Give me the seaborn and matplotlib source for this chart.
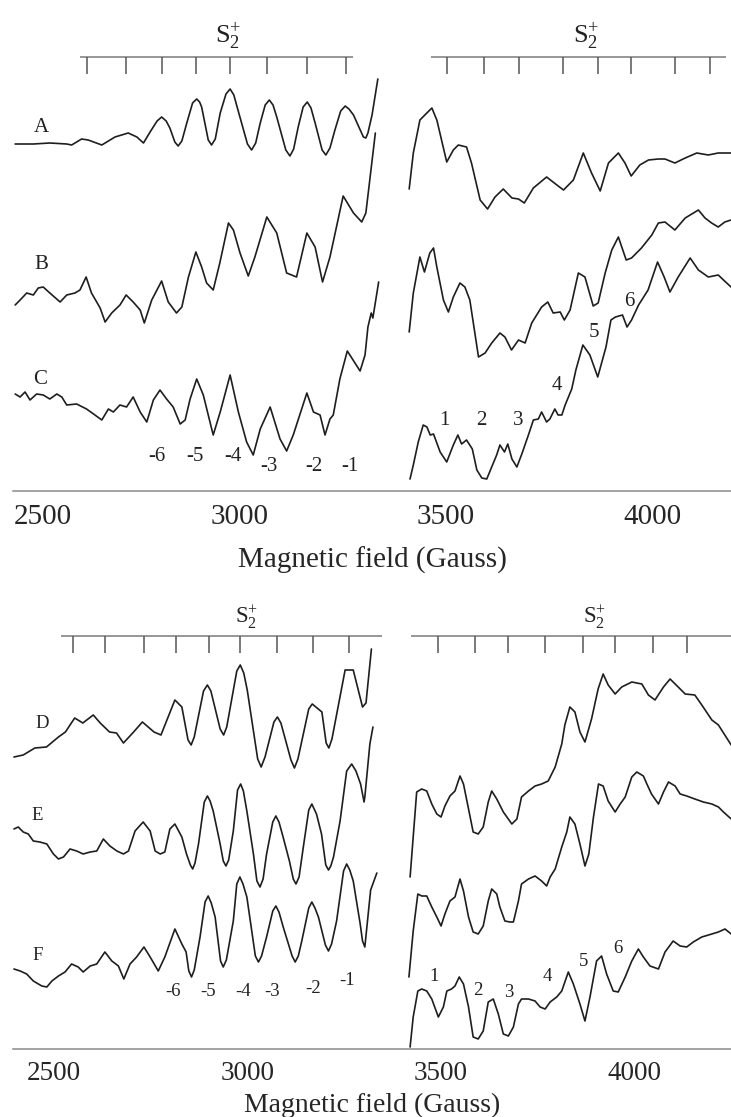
import matplotlib
matplotlib.use("Agg")
import matplotlib.pyplot as plt
import matplotlib.transforms as mtransforms
import numpy as np
import pandas as pd
import seaborn as sns

# ---------------- data (field in Gauss, signal in arbitrary units) ----------------
A_left_field = [2456, 2500, 2540, 2581, 2593, 2617, 2633, 2666, 2698, 2730, 2751, 2767, 2783, 2800, 2811, 2822, 2831, 2843, 2851, 2860, 2872, 2886, 2896, 2903, 2908, 2924, 2932, 2941, 2953, 2967, 2977, 2986, 2994, 3019, 3029, 3039, 3050, 3062, 3072, 3081, 3090, 3112, 3122, 3131, 3142, 3154, 3164, 3173, 3183, 3200, 3209, 3219, 3231, 3245, 3256, 3265, 3276, 3300, 3306, 3311, 3321, 3335]
A_left_signal = [347, 347, 348, 347, 346, 352, 351, 346, 354, 358, 354, 348, 359, 370, 374, 370, 363, 349, 345, 350, 368, 388, 392, 389, 384, 351, 346, 352, 378, 397, 402, 396, 384, 347, 341, 348, 368, 386, 391, 386, 374, 341, 335, 342, 364, 384, 389, 383, 368, 341, 336, 343, 361, 380, 385, 382, 376, 354, 353, 358, 376, 412]
A_right_field = [3411, 3421, 3437, 3449, 3466, 3478, 3502, 3518, 3530, 3550, 3562, 3583, 3601, 3619, 3639, 3660, 3676, 3690, 3712, 3744, 3769, 3785, 3809, 3833, 3853, 3874, 3894, 3918, 3934, 3949, 3970, 3991, 4015, 4031, 4055, 4080, 4108, 4136, 4160, 4191]
A_right_signal = [302, 338, 371, 376, 383, 371, 329, 341, 346, 344, 328, 291, 282, 294, 302, 293, 292, 288, 303, 314, 306, 301, 311, 338, 318, 300, 328, 338, 328, 315, 326, 331, 332, 332, 328, 333, 338, 336, 338, 338]

B_left_field = [2456, 2468, 2484, 2500, 2512, 2524, 2540, 2565, 2581, 2601, 2613, 2628, 2641, 2662, 2674, 2690, 2710, 2725, 2742, 2759, 2769, 2787, 2811, 2827, 2847, 2860, 2876, 2894, 2908, 2920, 2936, 2952, 2973, 2985, 3001, 3021, 3037, 3066, 3090, 3114, 3138, 3163, 3183, 3201, 3219, 3251, 3276, 3296, 3306, 3329]
B_left_signal = [186, 191, 198, 196, 203, 204, 198, 189, 196, 198, 201, 214, 198, 183, 169, 178, 186, 196, 189, 181, 168, 191, 210, 189, 178, 184, 214, 239, 224, 208, 201, 228, 268, 261, 238, 215, 234, 274, 258, 218, 214, 258, 244, 209, 234, 295, 278, 269, 278, 358]
B_right_field = [3411, 3421, 3437, 3448, 3461, 3470, 3478, 3494, 3506, 3518, 3534, 3546, 3558, 3579, 3595, 3611, 3631, 3643, 3659, 3676, 3692, 3708, 3732, 3747, 3760, 3777, 3787, 3801, 3821, 3837, 3857, 3869, 3886, 3902, 3918, 3937, 3950, 3974, 3999, 4015, 4031, 4055, 4080, 4112, 4128, 4144, 4160, 4176, 4191]
B_right_signal = [159, 198, 234, 219, 238, 243, 224, 191, 179, 194, 208, 204, 191, 134, 138, 148, 158, 154, 141, 151, 148, 168, 184, 189, 178, 179, 171, 181, 218, 214, 185, 188, 218, 241, 254, 231, 233, 243, 256, 268, 269, 261, 273, 281, 273, 268, 264, 269, 271]

C_left_field = [2456, 2468, 2480, 2492, 2508, 2524, 2540, 2557, 2569, 2581, 2605, 2629, 2646, 2666, 2682, 2694, 2710, 2726, 2742, 2759, 2775, 2791, 2807, 2823, 2839, 2856, 2868, 2880, 2896, 2912, 2936, 2953, 2977, 2997, 3017, 3033, 3050, 3074, 3098, 3114, 3130, 3163, 3179, 3195, 3207, 3219, 3227, 3243, 3261, 3292, 3304, 3311, 3319, 3323, 3337]
C_left_signal = [97, 94, 99, 91, 97, 96, 92, 97, 94, 86, 87, 82, 77, 71, 82, 79, 86, 84, 94, 79, 69, 91, 101, 92, 84, 67, 71, 92, 112, 96, 56, 79, 116, 79, 49, 36, 62, 84, 52, 40, 56, 98, 79, 76, 56, 72, 76, 112, 140, 120, 136, 164, 178, 173, 209]
C_right_field = [3413, 3421, 3433, 3445, 3454, 3462, 3470, 3486, 3502, 3518, 3529, 3538, 3550, 3564, 3575, 3587, 3599, 3611, 3623, 3631, 3642, 3650, 3660, 3672, 3684, 3700, 3712, 3724, 3732, 3744, 3752, 3764, 3772, 3781, 3789, 3805, 3815, 3832, 3849, 3868, 3888, 3900, 3911, 3928, 3939, 3950, 3967, 3990, 4013, 4029, 4043, 4063, 4092, 4112, 4136, 4160, 4191]
C_right_signal = [12, 26, 49, 66, 64, 56, 57, 39, 29, 46, 56, 47, 51, 42, 21, 13, 12, 24, 36, 46, 39, 47, 32, 24, 37, 56, 71, 72, 79, 69, 72, 82, 76, 76, 86, 102, 121, 146, 136, 114, 144, 171, 174, 176, 164, 171, 186, 201, 229, 214, 199, 214, 233, 221, 214, 216, 204]

D_left_field = [2396, 2420, 2450, 2480, 2511, 2529, 2553, 2574, 2601, 2619, 2643, 2661, 2679, 2703, 2728, 2758, 2776, 2812, 2830, 2846, 2854, 2862, 2886, 2896, 2905, 2929, 2938, 2946, 2972, 2981, 2990, 2999, 3026, 3035, 3045, 3068, 3077, 3086, 3112, 3121, 3130, 3158, 3167, 3192, 3203, 3210, 3218, 3252, 3273, 3297, 3306, 3320]
D_left_signal = [292, 294, 301, 302, 312, 317, 331, 326, 334, 326, 317, 316, 306, 316, 327, 317, 314, 349, 342, 309, 304, 312, 358, 364, 358, 320, 314, 322, 378, 384, 376, 359, 290, 282, 292, 327, 332, 326, 289, 281, 290, 340, 345, 337, 306, 301, 310, 379, 379, 342, 346, 400]
D_right_field = [3420, 3437, 3450, 3463, 3476, 3489, 3500, 3510, 3523, 3536, 3549, 3558, 3570, 3583, 3596, 3609, 3622, 3631, 3644, 3661, 3683, 3696, 3708, 3726, 3743, 3760, 3777, 3795, 3812, 3820, 3833, 3846, 3859, 3872, 3889, 3906, 3919, 3932, 3950, 3967, 3993, 4019, 4036, 4053, 4075, 4092, 4113, 4131, 4156, 4174, 4200, 4217, 4250]
D_right_signal = [172, 257, 260, 258, 245, 235, 232, 243, 253, 258, 273, 265, 242, 217, 215, 222, 247, 258, 250, 237, 225, 230, 252, 258, 263, 265, 268, 282, 305, 324, 342, 337, 317, 307, 330, 360, 375, 364, 355, 362, 367, 365, 354, 349, 362, 370, 362, 355, 354, 344, 329, 324, 304]

E_left_field = [2396, 2407, 2420, 2433, 2446, 2463, 2481, 2498, 2511, 2524, 2541, 2558, 2575, 2593, 2610, 2627, 2644, 2662, 2679, 2692, 2709, 2730, 2748, 2761, 2774, 2786, 2799, 2812, 2830, 2842, 2852, 2858, 2864, 2873, 2888, 2896, 2903, 2911, 2929, 2937, 2944, 2951, 2963, 2974, 2982, 2989, 2998, 3015, 3024, 3032, 3040, 3049, 3065, 3073, 3081, 3091, 3108, 3118, 3125, 3133, 3144, 3158, 3166, 3178, 3191, 3202, 3209, 3215, 3222, 3239, 3256, 3269, 3280, 3292, 3301, 3303, 3316, 3324]
E_left_signal = [220, 222, 217, 215, 208, 207, 205, 195, 190, 192, 200, 198, 195, 197, 198, 210, 203, 198, 195, 198, 218, 227, 218, 198, 195, 197, 220, 225, 212, 195, 184, 180, 186, 205, 247, 253, 248, 238, 205, 188, 183, 189, 218, 259, 265, 258, 238, 195, 168, 162, 170, 195, 227, 233, 227, 213, 188, 170, 165, 172, 202, 239, 245, 235, 215, 184, 179, 183, 192, 228, 278, 285, 278, 265, 247, 252, 305, 322]
E_right_field = [3417, 3428, 3440, 3450, 3463, 3476, 3489, 3500, 3510, 3523, 3536, 3549, 3558, 3571, 3583, 3596, 3609, 3622, 3631, 3644, 3652, 3665, 3678, 3687, 3700, 3708, 3726, 3743, 3760, 3773, 3782, 3795, 3812, 3825, 3833, 3846, 3859, 3872, 3882, 3894, 3907, 3919, 3932, 3950, 3963, 3976, 3993, 4006, 4023, 4032, 4044, 4062, 4075, 4088, 4105, 4118, 4135, 4156, 4178, 4200, 4217, 4230, 4250]
E_right_signal = [72, 118, 155, 153, 153, 142, 132, 123, 135, 148, 152, 170, 158, 132, 117, 115, 123, 148, 160, 155, 142, 128, 127, 127, 148, 165, 170, 173, 168, 163, 172, 180, 202, 217, 232, 225, 205, 183, 195, 232, 265, 263, 248, 237, 245, 252, 272, 277, 273, 265, 255, 245, 257, 267, 263, 255, 253, 250, 247, 245, 242, 237, 230]

F_left_field = [2396, 2412, 2429, 2446, 2468, 2481, 2494, 2511, 2528, 2545, 2562, 2575, 2593, 2610, 2631, 2649, 2666, 2680, 2696, 2713, 2732, 2748, 2769, 2786, 2812, 2830, 2841, 2848, 2855, 2862, 2877, 2890, 2898, 2906, 2916, 2930, 2937, 2945, 2963, 2972, 2980, 2988, 2998, 3020, 3028, 3036, 3049, 3065, 3073, 3081, 3092, 3115, 3123, 3131, 3140, 3158, 3166, 3174, 3183, 3201, 3209, 3217, 3230, 3248, 3256, 3264, 3273, 3291, 3297, 3303, 3318, 3334]
F_left_signal = [80, 78, 75, 68, 63, 62, 68, 73, 77, 85, 82, 77, 83, 85, 97, 88, 83, 70, 85, 92, 102, 92, 78, 92, 120, 105, 97, 78, 72, 79, 112, 147, 153, 146, 132, 88, 82, 89, 128, 165, 172, 165, 152, 93, 87, 93, 112, 138, 143, 137, 122, 93, 87, 93, 108, 141, 147, 141, 132, 104, 98, 105, 128, 178, 185, 179, 168, 125, 108, 102, 159, 176]
F_right_field = [3420, 3428, 3440, 3450, 3463, 3476, 3493, 3506, 3515, 3527, 3536, 3547, 3558, 3571, 3583, 3596, 3609, 3622, 3635, 3648, 3661, 3674, 3687, 3700, 3708, 3726, 3743, 3756, 3769, 3782, 3799, 3812, 3829, 3842, 3859, 3872, 3885, 3902, 3915, 3928, 3945, 3958, 3976, 3993, 4010, 4023, 4040, 4062, 4079, 4100, 4118, 4135, 4152, 4174, 4200, 4217, 4234, 4250]
F_right_signal = [2, 32, 58, 60, 58, 50, 32, 42, 58, 60, 63, 72, 65, 42, 12, 10, 18, 47, 50, 35, 15, 13, 22, 45, 50, 50, 48, 42, 40, 47, 52, 58, 77, 65, 45, 28, 52, 88, 93, 75, 58, 57, 72, 88, 100, 92, 83, 80, 97, 108, 103, 102, 107, 112, 115, 117, 120, 115]

# S2+ stick diagrams (line positions, Gauss)
top_sticks_left = [2629, 2725, 2813, 2894, 2977, 3067, 3163, 3257]
top_sticks_right = [3502, 3593, 3676, 3785, 3868, 3948, 4055, 4140]
bot_sticks_left = [2548, 2631, 2731, 2814, 2899, 2981, 3075, 3170, 3263]
bot_sticks_right = [3491, 3588, 3672, 3769, 3868, 3950, 4049, 4137]

x_ticks = [2500, 3000, 3500, 4000]
trace_labels_top = ["A", "B", "C"]
trace_labels_bot = ["D", "E", "F"]
peak_labels = ["-6", "-5", "-4", "-3", "-2", "-1", "1", "2", "3", "4", "5", "6"]

# ---------------- style ----------------
sns.set_style("white")
plt.rcParams["font.family"] = ["Liberation Serif", "DejaVu Serif"]
plt.rcParams["mathtext.fontset"] = "custom"
plt.rcParams["mathtext.rm"] = "Liberation Serif"
plt.rcParams["mathtext.it"] = "Liberation Serif:italic"

LINE = "#1e1e1e"
GREY = "#7a7a7a"


def frame(segments):
    rows = []
    for name, fx, sy in segments:
        rows.append(pd.DataFrame({"field": fx, "signal": sy, "unit": name}))
    return pd.concat(rows, ignore_index=True)


top_df = frame([
    ("A1", A_left_field, A_left_signal), ("A2", A_right_field, A_right_signal),
    ("B1", B_left_field, B_left_signal), ("B2", B_right_field, B_right_signal),
    ("C1", C_left_field, C_left_signal), ("C2", C_right_field, C_right_signal),
])
bot_df = frame([
    ("D1", D_left_field, D_left_signal), ("D2", D_right_field, D_right_signal),
    ("E1", E_left_field, E_left_signal), ("E2", E_right_field, E_right_signal),
    ("F1", F_left_field, F_left_signal), ("F2", F_right_field, F_right_signal),
])

fig = plt.figure(figsize=(7.31, 11.17), dpi=100)
ax1 = fig.add_axes([0.0182, 0.56043, 0.9818, 0.43957])
ax2 = fig.add_axes([0.0182, 0.06088, 0.9818, 0.4154])

for ax, df in ((ax1, top_df), (ax2, bot_df)):
    sns.lineplot(data=df, x="field", y="signal", units="unit", estimator=None,
                 sort=False, color=LINE, linewidth=1.2, ax=ax, legend=False)
    for line in ax.get_lines():
        line.set_solid_joinstyle("round")
    for s in ("left", "right", "top"):
        ax.spines[s].set_visible(False)
    ax.spines["bottom"].set_color("#8a8a8a")
    ax.spines["bottom"].set_linewidth(1.1)
    ax.set_yticks([])
    ax.set_ylabel("")
    ax.set_xticks(x_ticks)
    ax.tick_params(axis="x", direction="out", length=5, width=1.0,
                   color="#8a8a8a")

ax1.set_xlim(2451.5, 4191)
ax1.set_ylim(0, 491)
ax2.set_xlim(2394.3, 4249.5)
ax2.set_ylim(0, 464)

ax1.tick_params(axis="x", labelsize=21, pad=4.5)
ax2.tick_params(axis="x", labelsize=19.5, pad=3.5)
ax1.set_xlabel("Magnetic field (Gauss)", fontsize=21, labelpad=12)
ax2.set_xlabel("Magnetic field (Gauss)", fontsize=20, labelpad=5)

# stick diagrams
ax1.hlines(434.3, 2613, 3274, color=GREY, lw=1.1)
ax1.hlines(434.3, 3463, 4178, color=GREY, lw=1.1)
ax1.vlines(top_sticks_left + top_sticks_right, 417, 434.3, color="#555555", lw=1.1)
ax2.hlines(413, 2517, 3348, color=GREY, lw=1.1)
ax2.hlines(413, 3422, 4255, color=GREY, lw=1.1)
ax2.vlines(bot_sticks_left + bot_sticks_right, 396, 413, color="#555555", lw=1.1)

s2 = r"$\mathrm{S}_2^{+}$"
ax1.text(2972, 455, s2, fontsize=19, ha="center", va="center", color="#222222")
ax1.text(3840, 455, s2, fontsize=19, ha="center", va="center", color="#222222")
ax2.text(2998, 432, s2, fontsize=16.5, ha="center", va="center", color="#222222")
ax2.text(3898, 432, s2, fontsize=16.5, ha="center", va="center", color="#222222")

# trace labels
for lab, (x, y) in zip(trace_labels_top, [(2520, 363), (2520, 226), (2516, 111)]):
    ax1.text(x, y, lab, fontsize=15, ha="center", va="center", color="#222222")
for lab, (x, y) in zip(trace_labels_bot, [(2470, 325), (2456, 233), (2456, 93)]):
    ax2.text(x, y, lab, fontsize=13.5, ha="center", va="center", color="#222222")

# hyperfine line labels
top_pk = [(2799, 34), (2892, 34), (2985, 34), (3070, 24), (3179, 24), (3268, 24),
          (3496, 70), (3585, 70), (3674, 70), (3769, 105), (3860, 158), (3944, 189)]
bot_pk = [(2808, 57), (2898, 57), (2989, 57), (3062, 57), (3170, 60), (3256, 68),
          (3482, 72), (3595, 58), (3676, 56), (3774, 72), (3868, 87), (3957, 100)]
for lab, (x, y) in zip(peak_labels, top_pk):
    ax1.text(x, y, lab, fontsize=15, ha="center", va="center", color="#222222")
for lab, (x, y) in zip(peak_labels, bot_pk):
    ax2.text(x, y, lab, fontsize=13.5, ha="center", va="center", color="#222222")

# the first top tick label sits a little right of its tick in the reference
first = ax1.xaxis.get_major_ticks()[0].label1
first.set_transform(first.get_transform() +
                    mtransforms.ScaledTranslation(0.09, 0, fig.dpi_scale_trans))

fig.savefig("out.png", dpi=100)
